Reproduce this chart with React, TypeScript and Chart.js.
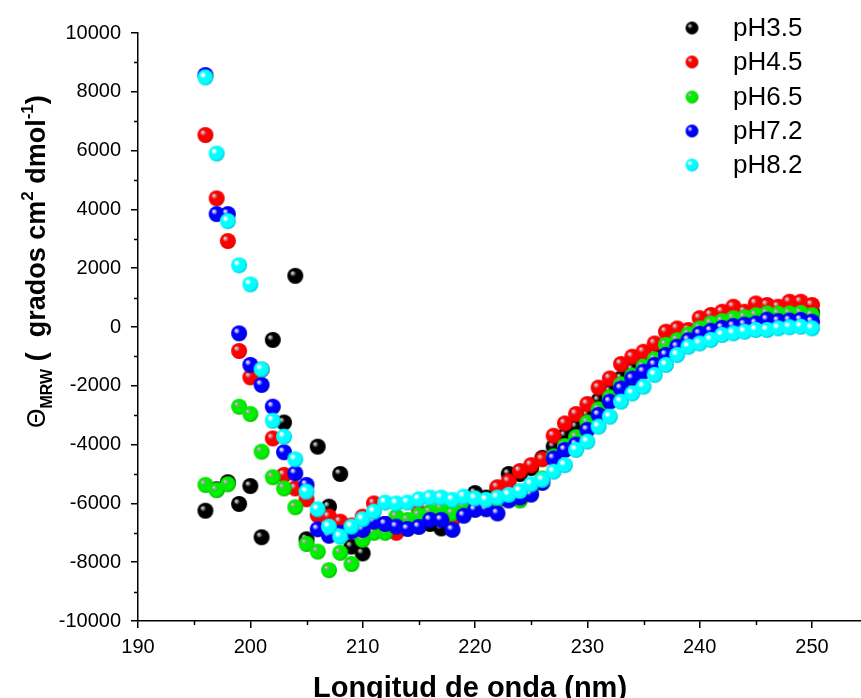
import React, { useEffect, useRef } from "react";
import { Chart, registerables } from "chart.js";
Chart.register(...registerables);

const wavelengths = [196, 197, 198, 199, 200, 201, 202, 203, 204, 205, 206, 207, 208, 209, 210, 211, 212, 213, 214, 215, 216, 217, 218, 219, 220, 221, 222, 223, 224, 225, 226, 227, 228, 229, 230, 231, 232, 233, 234, 235, 236, 237, 238, 239, 240, 241, 242, 243, 244, 245, 246, 247, 248, 249, 250];

const pH35 = [-6250, -5520, -5280, -6020, -5410, -7150, -440, -3250, 1740, -7220, -4070, -6110, -5000, -7470, -7700, -6900, -6700, -6750, -6750, -6650, -6700, -6850, -6500, -6100, -5650, -5800, -5500, -5000, -5000, -4800, -4450, -4070, -3700, -3400, -3000, -2500, -2200, -1750, -1450, -1200, -950, -650, -450, -300, -100, 0, 100, 200, 250, 350, 400, 400, 500, 550, 500];
const pH45 = [6530, 4375, 2925, -816, -1712, -1450, -3790, -5030, -5490, -5860, -6400, -6450, -6620, -6750, -6450, -6000, -6700, -7000, -6750, -6300, -6300, -6450, -6550, -6300, -6150, -5950, -5450, -5250, -4900, -4700, -4500, -3700, -3280, -2960, -2620, -2060, -1750, -1260, -1010, -840, -560, -160, -50, -100, 300, 410, 520, 690, 520, 800, 750, 690, 860, 860, 750];
const pH65 = [-5370, -5550, -5350, -2710, -2960, -4240, -5110, -5490, -6130, -7380, -7640, -8270, -7680, -8060, -7240, -7000, -7000, -6450, -6560, -6400, -6300, -6170, -6340, -6100, -6000, -6000, -5900, -5800, -5900, -5500, -5150, -4400, -4050, -3750, -3250, -2800, -2400, -1950, -1650, -1350, -1100, -610, -450, -250, -50, 120, 200, 300, 330, 400, 460, 450, 460, 480, 400];
const pH72 = [8570, 3840, 3840, -215, -1290, -1970, -2710, -4260, -4980, -5370, -6880, -7100, -7000, -6950, -6900, -6620, -6700, -6790, -6870, -6800, -6560, -6560, -6900, -6420, -6220, -6200, -6340, -5900, -5800, -5700, -5300, -4470, -4180, -4000, -3500, -2990, -2540, -2090, -1750, -1520, -1290, -950, -670, -450, -230, -130, -30, 30, 80, 120, 250, 200, 220, 240, 180];
const pH82 = [8490, 5900, 3600, 2100, 1450, -1440, -3190, -3730, -4500, -5600, -6200, -6790, -7130, -6790, -6540, -6280, -5970, -6000, -5970, -5860, -5800, -5800, -5880, -5770, -5830, -5880, -5800, -5710, -5580, -5350, -5200, -4920, -4700, -4180, -3900, -3390, -3050, -2540, -2260, -2030, -1630, -1290, -950, -670, -560, -440, -270, -215, -160, -100, -100, -45, -10, 10, -45];

const seriesLabels = ["pH3.5", "pH4.5", "pH6.5", "pH7.2", "pH8.2"];
const seriesValues = [pH35, pH45, pH65, pH72, pH82];
const seriesColors = ["#000000", "#ff0000", "#00ee00", "#0000ff", "#00ffff"];
const seriesHighlights = ["#9a9a9a", "#c89aa8", "#a0a0a0", "#b8b8ff", "#ffffff"];
const seriesDark = ["#000000", "#d00000", "#00b800", "#0000b0", "#00c8d8"];

const xTicks = [190, 200, 210, 220, 230, 240, 250];
const xMinorTicks = [195, 205, 215, 225, 235, 245];
const yTicks = [-10000, -8000, -6000, -4000, -2000, 0, 2000, 4000, 6000, 8000, 10000];
const yMinorTicks = [-9000, -7000, -5000, -3000, -1000, 1000, 3000, 5000, 7000, 9000];

const FONT = '"Liberation Sans", Arial, sans-serif';

function makeBall(i: number, r: number) {
  const size = Math.ceil(r * 2) + 2;
  const c = document.createElement("canvas");
  c.width = size;
  c.height = size;
  const g = c.getContext("2d")!;
  const cx = size / 2, cy = size / 2;
  const grad = g.createRadialGradient(cx - r * 0.38, cy - r * 0.38, 0, cx - r * 0.1, cy - r * 0.1, r * 1.1);
  grad.addColorStop(0, "#ffffff");
  grad.addColorStop(0.14, seriesHighlights[i]);
  grad.addColorStop(0.36, seriesColors[i]);
  grad.addColorStop(0.8, seriesColors[i]);
  grad.addColorStop(1, seriesDark[i]);
  g.fillStyle = grad;
  g.beginPath();
  g.arc(cx, cy, r, 0, Math.PI * 2);
  g.fill();
  return c;
}

export default function App() {
  const ref = useRef<HTMLCanvasElement | null>(null);
  useEffect(() => {
    const canvas = ref.current!;
    const balls = seriesColors.map((_, i) => makeBall(i, 8));
    const legendBalls = seriesColors.map((_, i) => makeBall(i, 6.5));

    const decor = {
      id: "decor",
      afterDraw(chart: any) {
        const ctx = chart.ctx;
        const xs = chart.scales.x;
        const ys = chart.scales.y;
        const area = chart.chartArea;
        ctx.save();
        ctx.strokeStyle = "#000";
        ctx.lineWidth = 1.5;
        ctx.beginPath();
        xMinorTicks.forEach((v) => {
          const px = Math.round(xs.getPixelForValue(v)) + 0.5;
          ctx.moveTo(px, area.bottom);
          ctx.lineTo(px, area.bottom + 4);
        });
        yMinorTicks.forEach((v) => {
          const py = Math.round(ys.getPixelForValue(v)) + 0.5;
          ctx.moveTo(area.left - 4, py);
          ctx.lineTo(area.left, py);
        });
        ctx.stroke();

        // x title
        ctx.fillStyle = "#000";
        ctx.font = `bold 29px ${FONT}`;
        ctx.textAlign = "center";
        ctx.textBaseline = "alphabetic";
        ctx.fillText("Longitud de onda (nm)", 470, 697);

        // y title
        ctx.save();
        ctx.translate(45, 428);
        ctx.rotate(-Math.PI / 2);
        ctx.textAlign = "left";
        const pieces: [string, string, number][] = [
          ["\u0398", `25px ${FONT}`, 0],
          ["MRW", `bold 16px ${FONT}`, 7],
          [" (  ", `bold 27px ${FONT}`, 0],
          ["grados cm", `bold 27px ${FONT}`, 0],
          ["2", `bold 17px ${FONT}`, -12],
          [" dmol", `bold 27px ${FONT}`, 0],
          ["-1", `bold 17px ${FONT}`, -12],
          [")", `bold 27px ${FONT}`, 0],
        ];
        let x = 0;
        pieces.forEach(([t, f, dy]) => {
          ctx.font = f;
          ctx.fillText(t, x, dy);
          x += ctx.measureText(t).width;
        });
        ctx.restore();

        // legend
        const rowsY = [28, 62, 97, 131, 165];
        ctx.font = `26px ${FONT}`;
        ctx.textAlign = "left";
        ctx.textBaseline = "middle";
        seriesLabels.forEach((lab, i) => {
          const b = legendBalls[i];
          ctx.drawImage(b, 692 - b.width / 2, rowsY[i] - b.height / 2);
          ctx.fillStyle = "#000";
          ctx.fillText(lab, 733, rowsY[i] + 1);
        });
        ctx.restore();
      },
    };

    const chart = new Chart(canvas, {
      type: "scatter",
      data: {
        datasets: seriesLabels.map((lab, i) => ({
          label: lab,
          data: wavelengths.map((w, j) => ({ x: w, y: seriesValues[i][j] })),
          pointStyle: balls[i] as any,
          pointRadius: 8,
          backgroundColor: seriesColors[i],
          borderColor: seriesColors[i],
          showLine: false,
          order: 5 - i,
        })),
      },
      options: {
        animation: false,
        responsive: false,
        devicePixelRatio: 1,
        layout: { autoPadding: false, padding: { top: 33, right: 0, left: 0, bottom: 0 } },
        plugins: { legend: { display: false }, tooltip: { enabled: false } },
        scales: {
          x: {
            type: "linear",
            min: 190,
            max: 254.36,
            afterBuildTicks: (s: any) => { s.ticks = xTicks.map((v) => ({ value: v })); },
            afterFit: (s: any) => { s.height = 77; s.paddingRight = 0; s.paddingLeft = 0; },
            ticks: { font: { family: FONT, size: 20 }, color: "#000", padding: 7, maxRotation: 0, callback: (v: any) => String(v) },
            grid: { display: true, drawOnChartArea: false, drawTicks: true, tickLength: 7, color: "#000", lineWidth: 1.5 },
            border: { display: true, color: "#000", width: 1.5 },
          },
          y: {
            type: "linear",
            min: -10000,
            max: 10000,
            afterBuildTicks: (s: any) => { s.ticks = yTicks.map((v) => ({ value: v })); },
            afterFit: (s: any) => { s.width = 138; s.paddingTop = 0; s.paddingBottom = 0; },
            ticks: { font: { family: FONT, size: 20 }, color: "#000", padding: 10, callback: (v: any) => String(v) },
            grid: { display: true, drawOnChartArea: false, drawTicks: true, tickLength: 7, color: "#000", lineWidth: 1.5 },
            border: { display: true, color: "#000", width: 1.5 },
          },
        },
      },
      plugins: [decor],
    } as any);
    return () => chart.destroy();
  }, []);
  return (
    <div style={{ position: "absolute", left: 0, top: 0, width: 861, height: 698, background: "#fff" }}>
      <canvas ref={ref} width={861} height={698} style={{ width: 861, height: 698 }} />
    </div>
  );
}
